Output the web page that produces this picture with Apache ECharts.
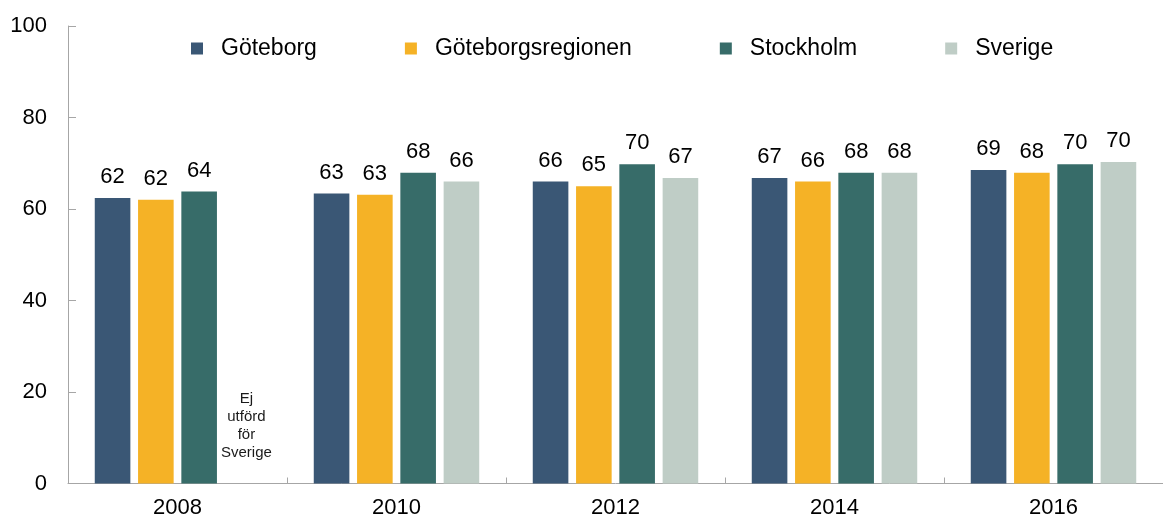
<!DOCTYPE html>
<html>
<head>
<meta charset="utf-8">
<script src="https://cdn.jsdelivr.net/npm/echarts@6/dist/echarts.min.js"></script>
<style>
  html, body { margin: 0; padding: 0; background: #ffffff; }
  #chart { width: 1163px; height: 522px; }
</style>
</head>
<body>
<div id="chart"></div>
<script>
const categories = ['2008', '2010', '2012', '2014', '2016'];
const seriesNames = ['Göteborg', 'Göteborgsregionen', 'Stockholm', 'Sverige'];
const goteborg = [62.4, 63.4, 66.0, 66.8, 68.5];
const goteborgsregionen = [62.0, 63.1, 65.0, 66.0, 67.9];
const stockholm = [63.8, 67.9, 69.8, 67.9, 69.8];
const sverige = [null, 66.0, 66.8, 67.9, 70.3];
const missingNote = 'Ej\nutförd\nför\nSverige';
const yTicks = { min: 0, max: 100, interval: 20 };

const colors = ['#3a5775', '#f5b226', '#376c69', '#bfcdc6'];
const FONT = "'Liberation Sans', Arial, sans-serif";

function makeData(arr) {
  return arr.map(v => {
    if (v === null) {
      return {
        value: 0,
        label: {
          show: true,
          formatter: missingNote,
          fontSize: 15,
          lineHeight: 18,
          color: '#1a1a1a',
          distance: 22,
          offset: [4, 0]
        }
      };
    }
    return v;
  });
}

const allData = [goteborg, goteborgsregionen, stockholm, sverige];

const chart = echarts.init(document.getElementById('chart'), null, { renderer: 'canvas' });
chart.setOption({
  animation: false,
  backgroundColor: '#ffffff',
  textStyle: { fontFamily: FONT },
  legend: {
    left: 186,
    top: 32,
    icon: 'rect',
    itemWidth: 12,
    itemHeight: 12,
    itemGap: 88,
    textStyle: { fontSize: 23, color: '#000', fontFamily: FONT, padding: [0, 0, 0, 13] },
    data: seriesNames
  },
  grid: { left: 68, right: -3, top: 26, bottom: 38.5, containLabel: false },
  xAxis: {
    type: 'category',
    data: categories,
    axisLine: { show: true, lineStyle: { color: '#a6a6a6', width: 1 } },
    axisTick: { show: true, inside: true, length: 6, lineStyle: { color: '#a6a6a6' } },
    axisLabel: { fontSize: 22, color: '#000', margin: 13, fontFamily: FONT }
  },
  yAxis: {
    type: 'value',
    min: yTicks.min,
    max: yTicks.max,
    interval: yTicks.interval,
    splitLine: { show: false },
    axisLine: { show: true, lineStyle: { color: '#a6a6a6', width: 1 } },
    axisTick: { show: true, inside: true, length: 8, lineStyle: { color: '#a6a6a6' } },
    axisLabel: { fontSize: 22, color: '#000', margin: 21, fontFamily: FONT }
  },
  series: seriesNames.map((name, i) => ({
    name: name,
    type: 'bar',
    data: makeData(allData[i]),
    barWidth: 35.6,
    barGap: '21.6%',
    itemStyle: { color: colors[i] },
    label: {
      show: true,
      position: 'top',
      distance: 10,
      fontSize: 22,
      color: '#000',
      fontFamily: FONT,
      formatter: p => String(Math.round(p.value))
    }
  }))
});
</script>
</body>
</html>
